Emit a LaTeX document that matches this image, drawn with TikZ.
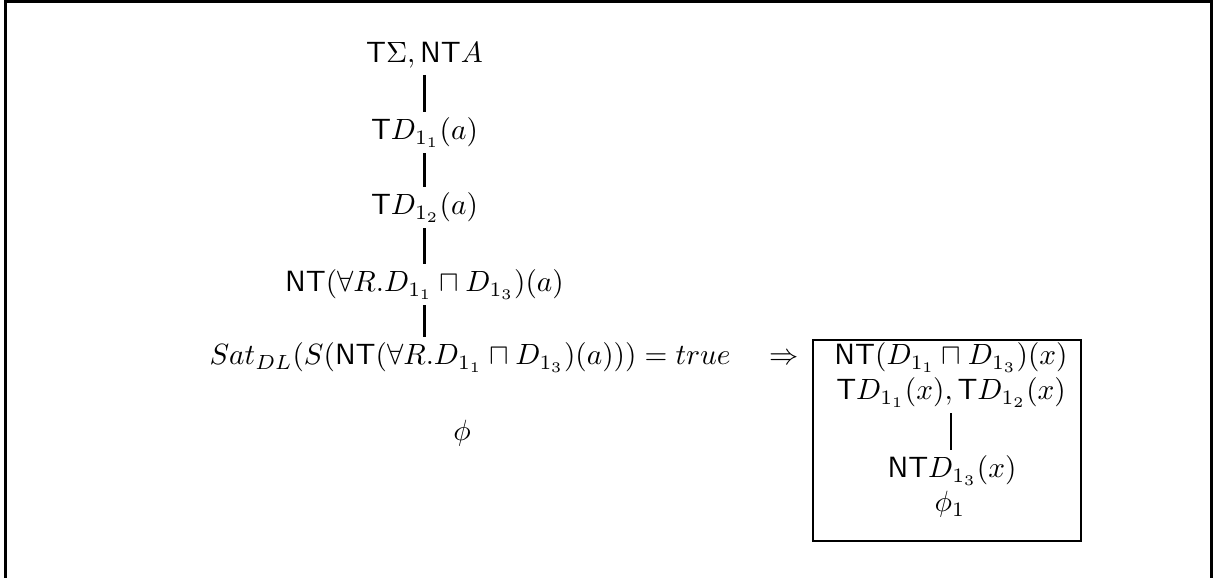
\documentclass[tikz,border=0pt]{standalone}
\usepackage{amssymb}
\tikzset{
  lbl/.style={inner xsep=0pt, inner ysep=1.9pt, anchor=base},
  conn/.style={line width=0.85pt},
  frame/.style={line width=1.1pt},
  boxed/.style={draw, line width=0.85pt, inner sep=0pt, minimum width=91.5pt, minimum height=68.6pt}
}
\begin{document}
\begin{tikzpicture}[x=0.3415pt, y=-0.3415pt]
\useasboundingbox (0,0) rectangle (1217,578);
\draw[frame] (5.5,580) -- (5.5,1.5) -- (1211.5,1.5) -- (1211.5,580);
% left tree
\node[lbl] (a) at (424.5,63) {$\mathsf{T}\Sigma, \mathsf{NT}A$};
\node[lbl] (b) at (424.5,140) {$\mathsf{T}D_{1_1}(a)$};
\node[lbl] (c) at (424.5,215) {$\mathsf{T}D_{1_2}(a)$};
\node[lbl] (d) at (424.5,292) {$\mathsf{NT}(\forall R.D_{1_1}\sqcap D_{1_3})(a)$};
\node[lbl, anchor=base west] (e) at (209,365) {$Sat_{DL}(S(\mathsf{NT}(\forall R.D_{1_1}\sqcap D_{1_3})(a))) = true$};
\node[lbl] (phi) at (462,441) {$\phi$};
\draw[conn] (a.south) -- (b.north);
\draw[conn] (b.south) -- (c.north);
\draw[conn] (c.south) -- (d.north);
\draw[conn] (d.south) -- (d.south |- e.north);
% arrow
\node[lbl] (imp) at (784,365) {$\Rightarrow$};
% right box
\node[boxed] (box) at (947,440.5) {};
\node[lbl] (r1) at (951,365) {$\mathsf{NT}(D_{1_1}\sqcap D_{1_3})(x)$};
\node[lbl] (r2) at (951,400) {$\mathsf{T}D_{1_1}(x), \mathsf{T}D_{1_2}(x)$};
\node[lbl] (r3) at (952,478) {$\mathsf{NT}D_{1_3}(x)$};
\node[lbl] (r4) at (950,512) {$\phi_1$};
\draw[conn] (r2.south) -- (r2.south |- r3.north);
\end{tikzpicture}
\end{document}
